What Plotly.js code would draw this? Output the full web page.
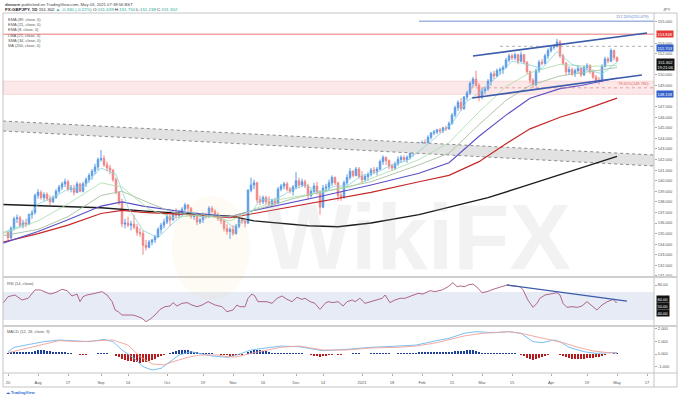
<!DOCTYPE html>
<html><head><meta charset="utf-8">
<script src="https://cdn.plot.ly/plotly-3.0.1.min.js"></script>
<style>html,body{margin:0;padding:0;background:#fff;}#chart{width:680px;height:395px;}</style>
</head><body><div id="chart"></div>
<script>
// ---- Daily GBP/JPY candles (bar index 0 = 2020-07-20 ... 203 = 2021-05-03) ----
const open = [135.1,134.6,135.5,136.4,136.5,135.8,136.0,135.9,136.8,137.0,
138.6,138.9,138.4,138.7,138.3,138.0,138.4,139.0,139.4,139.7,
139.9,139.2,139.3,138.9,139.7,139.0,139.7,140.1,140.5,140.9,
141.3,142.0,142.1,141.5,141.2,141.0,140.1,138.9,137.9,135.9,
136.0,135.8,135.9,135.6,135.1,135.0,133.9,133.7,134.2,134.4,
134.7,135.4,135.8,136.1,136.6,136.3,137.0,136.7,137.0,137.3,
137.7,137.4,136.6,136.8,136.1,136.3,136.8,136.6,137.4,137.1,
136.8,136.4,136.2,135.5,135.2,135.4,135.0,135.7,136.3,136.2,
136.0,139.1,139.6,139.8,138.2,138.0,138.4,138.0,137.8,138.1,
137.9,139.2,139.5,139.7,139.2,139.0,139.4,140.0,139.6,139.9,
139.5,138.6,139.0,139.5,138.9,137.5,139.3,139.4,139.8,140.3,
139.8,138.6,138.4,139.8,140.3,140.9,140.5,141.1,140.4,140.1,
140.4,140.6,141.0,140.9,141.1,141.8,142.2,141.9,141.4,141.2,
141.6,142.0,142.2,142.0,142.2,142.6,142.9,142.7,143.5,143.6,
143.5,144.1,144.5,144.6,144.8,144.7,145.0,144.9,145.4,146.2,
146.9,147.4,146.8,147.9,148.3,149.2,149.6,149.0,147.9,148.5,
148.7,149.4,150.1,149.9,150.4,150.5,150.7,151.4,151.8,151.6,
151.9,151.3,151.9,151.2,150.3,149.5,149.1,150.4,151.2,151.1,
151.8,152.3,152.6,152.7,153.1,151.8,151.1,150.3,150.5,150.1,
150.4,150.6,150.0,150.7,150.9,150.3,149.8,149.5,149.4,150.8,
151.5,151.3,152.3,151.639];
const high = [135.3,135.7,136.6,136.8,136.7,136.3,136.4,136.9,137.2,138.8,
139.2,139.1,138.9,138.9,138.6,138.6,139.2,139.6,139.9,140.2,
140.1,139.6,139.6,139.9,139.8,139.9,140.3,140.7,141.1,141.6,
142.2,142.9,142.4,141.8,141.5,141.1,140.3,139.0,138.3,136.4,
136.6,136.2,136.8,135.9,135.5,135.3,134.4,134.4,134.5,134.9,
135.6,136.0,136.4,136.9,136.8,137.2,137.4,137.2,137.5,137.9,
137.8,137.5,137.0,137.0,136.5,137.0,137.0,137.6,137.6,137.3,
137.0,136.6,136.3,135.9,135.6,135.8,135.9,136.6,136.6,136.5,
139.2,140.3,140.1,139.9,138.6,138.6,138.6,138.5,138.3,138.4,
139.4,139.7,139.9,139.9,139.4,139.6,140.8,140.3,140.2,140.1,
139.7,139.2,139.8,139.9,139.1,139.6,139.7,140.1,140.5,140.4,
139.9,139.0,140.0,140.6,141.2,141.0,141.3,141.3,140.9,140.6,
140.8,141.2,141.3,141.3,142.0,142.4,142.3,142.0,141.6,141.8,
142.3,142.4,142.4,142.4,142.8,143.1,143.2,143.6,143.8,143.9,
144.3,144.6,144.8,144.9,145.0,145.1,145.2,145.6,146.4,147.1,
147.6,147.8,148.0,148.5,149.4,149.8,150.4,149.2,148.8,148.9,
149.6,150.3,150.4,150.6,150.7,150.9,151.6,152.0,152.0,152.1,
152.0,152.2,152.0,151.3,150.4,149.7,150.6,151.4,151.5,152.0,
152.5,152.8,152.9,153.4,153.3,152.0,151.2,150.8,150.7,150.6,
150.9,150.7,150.9,151.1,151.0,150.5,150.0,149.8,151.0,151.7,
151.7,152.5,152.4,151.750];
const low = [134.4,134.5,135.3,136.0,135.6,135.5,135.6,135.8,136.4,136.8,
138.3,138.2,138.1,138.1,137.7,137.9,138.3,138.8,139.1,139.4,
139.0,138.9,138.6,138.8,138.9,138.9,139.4,139.8,140.1,140.6,
141.0,141.8,141.3,140.9,140.6,139.9,138.7,137.7,135.6,135.5,
135.6,135.3,135.4,134.8,134.7,133.0,133.4,133.6,133.9,134.1,
134.6,135.0,135.5,135.9,135.7,136.2,136.4,136.5,136.7,137.1,
137.1,136.4,136.3,135.8,135.9,136.0,136.4,136.5,136.9,136.6,
136.2,135.9,135.2,134.9,134.5,134.8,134.9,135.5,135.9,135.6,
135.9,138.9,139.2,137.9,137.7,137.8,137.8,137.6,137.5,137.7,
137.8,139.0,139.2,139.0,138.8,138.6,139.2,139.3,139.4,139.3,
138.2,138.4,138.8,138.7,136.8,137.4,138.9,139.1,139.5,139.6,
138.1,138.1,138.3,139.6,140.1,140.3,140.4,140.2,139.8,139.9,
140.0,140.4,140.6,140.5,141.0,141.5,141.5,141.1,140.9,141.0,
141.4,141.7,141.8,141.7,142.0,142.3,142.5,142.6,143.2,143.3,
143.4,143.9,144.3,144.4,144.5,144.5,144.7,144.8,145.3,146.0,
146.6,146.6,146.7,147.6,148.1,148.8,148.9,147.5,147.7,148.2,
148.5,149.0,149.6,149.8,150.0,150.1,150.6,151.2,151.4,151.4,
151.0,151.2,151.0,150.1,149.2,148.8,148.9,150.2,150.9,151.0,
151.5,152.1,152.4,152.6,151.6,150.9,150.0,150.0,149.9,149.8,
150.2,149.8,149.9,150.4,150.1,149.6,149.3,149.1,149.3,150.7,
151.1,151.2,151.4,151.238];
const close = [134.6,135.5,136.4,136.5,135.8,136.0,135.9,136.8,137.0,138.6,
138.9,138.4,138.7,138.3,138.0,138.4,139.0,139.4,139.7,139.9,
139.2,139.3,138.9,139.7,139.0,139.7,140.1,140.5,140.9,141.3,
142.0,142.1,141.5,141.2,141.0,140.1,138.9,137.9,135.9,136.0,
135.8,135.9,135.6,135.1,135.0,133.9,133.7,134.2,134.4,134.7,
135.4,135.8,136.1,136.6,136.3,137.0,136.7,137.0,137.3,137.7,
137.4,136.6,136.8,136.1,136.3,136.8,136.6,137.4,137.1,136.8,
136.4,136.2,135.5,135.2,135.4,135.0,135.7,136.3,136.2,136.0,
139.1,139.6,139.8,138.2,138.0,138.4,138.0,137.8,138.1,137.9,
139.2,139.5,139.7,139.2,139.0,139.4,140.0,139.6,139.9,139.5,
138.6,139.0,139.5,138.9,137.5,139.3,139.4,139.8,140.3,139.8,
138.6,138.4,139.8,140.3,140.9,140.5,141.1,140.4,140.1,140.4,
140.6,141.0,140.9,141.1,141.8,142.2,141.9,141.4,141.2,141.6,
142.0,142.2,142.0,142.2,142.6,142.9,142.7,143.5,143.6,143.5,
144.1,144.5,144.6,144.8,144.7,145.0,144.9,145.4,146.2,146.9,
147.4,146.8,147.9,148.3,149.2,149.6,149.0,147.9,148.5,148.7,
149.4,150.1,149.9,150.4,150.5,150.7,151.4,151.8,151.6,151.9,
151.3,151.9,151.2,150.3,149.5,149.1,150.4,151.2,151.1,151.8,
152.3,152.6,152.7,153.1,151.8,151.1,150.3,150.5,150.1,150.4,
150.6,150.0,150.7,150.9,150.3,149.8,149.5,149.4,150.8,151.5,
151.3,152.3,151.632,151.302];

// ---- Moving averages (bar index, price) ----
const ma200X = [-1.7,10,31,47,60,74,82,100,110,121,137,147,160,170,184,195,203];
const ma200V = [137.75,137.65,137.45,137.1,136.9,136.65,136.2,135.75,135.65,136.0,136.8,137.5,138.4,139.3,140.6,141.6,142.3];
const ema89X = [-1.7,10,20,31,38,45,60,74,82,104,121,137,147,157,166,174,184,191,203];
const ema89V = [134.2,135.0,135.8,136.9,137.2,137.0,136.8,136.5,136.9,138.0,138.9,139.9,140.5,141.8,143.5,144.9,146.0,146.6,147.8];
const lma21X = [-1.7,10,20,31,38,45,60,74,82,104,121,137,147,157,166,174,184,191,203];
const lma21V = [134.1,135.2,136.3,137.6,138.0,137.6,137.0,136.6,137.2,138.5,139.6,140.7,141.7,144.2,146.2,147.8,148.7,149.0,149.7];
const sma34X = [-1.7,10,20,31,38,47,55,65,74,82,95,104,121,137,147,157,166,174,184,194,203];
const sma34V = [134.8,135.4,136.6,138.6,139.0,137.9,137.0,136.6,136.6,137.2,138.3,138.9,139.9,141.5,142.6,145.3,147.6,149.0,149.9,150.3,150.7];
const ema21X = [-1.7,10,20,31,38,47,55,65,74,82,90,104,114,121,137,147,157,166,174,184,194,203];
const ema21V = [135.0,136.2,137.8,139.8,139.4,137.3,136.5,136.8,136.2,137.3,138.2,138.9,139.4,140.2,142.0,143.6,146.5,148.9,150.2,151.0,150.8,150.9];
const ema8X = [-1.7,5,10,15,20,25,31,36,40,45,50,55,60,65,70,75,80,84,89,94,99,104,109,113,118,123,128,133,138,143,148,153,158,163,168,173,178,183,188,193,198,203];
const ema8V = [135.1,135.8,137.8,138.4,139.2,139.4,141.2,140.6,137.5,135.3,134.6,136.0,137.1,136.6,136.8,135.6,136.5,138.2,138.2,139.0,139.6,138.9,139.5,139.5,140.5,140.8,141.5,141.9,143.0,144.2,145.4,147.5,148.5,149.8,151.3,151.0,150.6,152.2,151.0,150.5,150.1,151.2];

// ---- RSI (14) ----
const rsiX = [-1.7,0,2.3,4.7,6.7,9,10.7,12.3,14,15.7,18,19.7,21.3,23,24,25,26.3,28,29.7,31.3,33,34.7,35.7,36.7,38,39.7,41.7,43.3,44.7,46,47.3,49,50.7,52.3,54,55,56.3,58,59.7,61.3,63,64.7,66.7,69,71.3,73,75,76.3,77.3,79,80,81.3,82.3,83.3,86.3,88,89.7,91.3,93,94.7,96.3,98,99,100.7,102.3,104,105.7,106.7,108.3,110,111.7,113,114.7,115.7,117.3,119,120.7,123,124.7,125.7,127.3,129,130.7,132.3,134.7,136.7,138.3,140.7,142.3,144.7,146.7,148.3,149.7,150.7,152.3,153.3,155,156.7,158,159.7,161.7,164,166.3,168.3,170.7,171.7,173.3,175,176.3,177.3,179,180.7,183,184,185,186.3,188,189.7,191.3,193,194.7,196.3,198,199.7,200.7,201.7,202.7,203];
const rsiV = [53.8,63.3,65.7,58.6,61,72.9,72.9,70.5,67.1,69,73.8,71.9,64.3,67.1,56.2,63.3,65.7,67.1,69,70.5,65.7,56.2,44.3,41.9,37.1,37.1,37.1,34.8,32.4,27.6,31,37.1,45.2,49,50,54.8,50,53.8,54.8,51.4,49,51.4,56.2,51.4,49,41.9,44.3,51.4,49,49,61,67.1,64.3,56.2,56.2,53.8,61,64.3,59.5,56.2,62.4,59.5,61,56.2,53.8,45.2,53.8,56.2,54.8,56.2,50,56.2,58.6,56.2,61,53.8,56.2,59.5,61,65.7,54.8,58.6,61,61,64.3,68.1,67.1,71.9,70.5,72.9,77.6,83.3,77.6,78.6,77.6,80,81.4,75.3,69,70.5,73.8,76.7,80,78.6,77.6,72.9,58.6,48.1,53.8,61,65.7,67.1,69,65.7,53.8,48.1,49,48.1,50,56.2,50,44.3,51.4,56.2,57.6,59.5,54.8,56.2];

// ---- MACD (12, 26, 9) ----
const macdX = [0,2,6,12,17,23,27,32,35,38,42,45,48,51,54,57,61,64,68,73,76,81,91,97,105,113,121,130,136,143,147,152,156,162,167,171,175,178,182,184,187,192,196,201,203];
const macdV = [0.18,0.53,0.71,0.98,1.11,1.03,0.98,1.16,0.98,0.32,-0.34,-1.0,-1.27,-1.14,-0.61,-0.08,0.18,0.05,-0.16,-0.26,-0.10,0.32,0.63,0.58,0.26,0.37,0.53,0.63,0.71,1.06,1.24,1.64,1.77,1.69,1.77,1.64,0.98,0.90,1.11,0.98,0.53,0.18,0.05,0.11,0.11];
const signalX = [0,4,11,17,24,31,35,40,44,48,52,55,60,64,70,73,76,81,91,97,105,113,121,130,136,143,147,152,158,167,171,176,181,185,190,195,200,203];
const signalV = [0.10,0.32,0.71,1.06,0.98,1.06,1.11,0.71,-0.21,-0.79,-0.87,-0.61,-0.26,-0.08,-0.08,-0.21,-0.25,0.05,0.53,0.63,0.32,0.32,0.48,0.53,0.63,0.90,1.11,1.43,1.64,1.77,1.64,1.37,1.11,0.90,0.53,0.24,0.11,0.05];
const histV = [0.10,0.12,0.15,0.17,0.16,0.15,0.14,0.16,0.19,0.26,
0.30,0.30,0.28,0.25,0.21,0.18,0.17,0.16,0.15,0.14,
0.10,0.07,0.03,-0.01,-0.04,-0.05,-0.04,-0.02,0.00,0.03,
0.07,0.10,0.09,0.06,0.03,-0.03,-0.12,-0.22,-0.38,-0.47,
-0.53,-0.58,-0.62,-0.66,-0.68,-0.66,-0.62,-0.55,-0.46,-0.37,
-0.27,-0.17,-0.08,0.02,0.10,0.17,0.23,0.28,0.31,0.32,
0.28,0.22,0.17,0.12,0.09,0.07,0.05,0.05,0.04,0.02,
-0.01,-0.04,-0.08,-0.11,-0.12,-0.12,-0.10,-0.07,-0.05,-0.03,
0.12,0.25,0.33,0.34,0.31,0.26,0.20,0.15,0.10,0.07,
0.08,0.09,0.10,0.09,0.07,0.06,0.07,0.06,0.05,0.03,
-0.03,-0.08,-0.12,-0.15,-0.20,-0.17,-0.12,-0.08,-0.04,-0.02,
-0.05,-0.06,-0.03,0.00,0.03,0.04,0.05,0.04,0.02,0.02,
0.03,0.04,0.05,0.07,0.08,0.09,0.07,0.05,0.03,0.03,
0.04,0.05,0.05,0.06,0.07,0.08,0.10,0.12,0.13,0.13,
0.14,0.15,0.15,0.14,0.13,0.12,0.12,0.14,0.18,0.22,
0.26,0.25,0.27,0.29,0.31,0.29,0.24,0.14,0.08,0.05,
0.05,0.07,0.06,0.05,0.05,0.06,0.08,0.09,0.07,0.04,
-0.01,-0.08,-0.15,-0.28,-0.40,-0.48,-0.42,-0.33,-0.25,-0.16,
-0.08,-0.03,0.00,0.02,-0.05,-0.15,-0.26,-0.33,-0.37,-0.40,
-0.41,-0.40,-0.37,-0.33,-0.30,-0.28,-0.27,-0.23,-0.16,-0.09,
-0.03,0.02,0.05,0.06];

// ---- Axis ticks ----
const dateTickIdx = [0,10,20,31,40,53,65,75,85,96,105,118,128,138,148,158,168,181,193,203,213];
const dateTickText = ['20','Aug','17','Sep','14','Oct','19','Nov','16','Dec','14','2021','18','Feb','15','Mar','15','Apr','19','May','17'];
const priceTicks = [131,132,133,134,135,136,137,138,139,140,141,142,143,144,145,146,147,149,150,152,153,155];
const priceTickText = priceTicks.map(v => v.toFixed(3));

// ---- Drawn levels / zones ----
const resistance = 153.848, fib117 = 155.079, level2 = 152.703, fib786 = 148.78, support = 148.158, zoneTop = 149.42;
const bandX = [-1.67, 215.33], bandTop = [145.64, 142.43], bandBot = [144.70, 141.39];

const F = 'Liberation Sans, Arial, sans-serif';
const idx = close.map((_, i) => i);

const line = (x, y, color, w, yaxis) => ({type:'scatter', mode:'lines', x, y, yaxis: yaxis || 'y', line:{color, width:w}, hoverinfo:'skip'});

const traces = [
  {type:'scatter', mode:'lines', x:bandX, y:bandBot, line:{color:'#8a8a8a', width:1, dash:'dot'}, hoverinfo:'skip'},
  {type:'scatter', mode:'lines', x:bandX, y:bandTop, fill:'tonexty', fillcolor:'#e2e2e2', line:{color:'#8a8a8a', width:1, dash:'dot'}, hoverinfo:'skip'},
  line(ma200X, ma200V, '#1c1c1c', 1.4),
  line(ema89X, ema89V, '#c62828', 1.2),
  line(lma21X, lma21V, '#5a4fc8', 1.1),
  line(sma34X, sma34V, '#a5bfa0', 0.9),
  line(ema21X, ema21V, '#a8dca8', 0.8),
  line(ema8X, ema8V, '#86d4d8', 0.8),
  {type:'candlestick', x:idx, open, high, low, close, whiskerwidth:0,
   increasing:{line:{color:'#5b9be6', width:1}, fillcolor:'#5b9be6'},
   decreasing:{line:{color:'#ef8585', width:1}, fillcolor:'#ef8585'}, hoverinfo:'skip'},
  line(rsiX, rsiV, '#a8567a', 0.9, 'y2'),
  {type:'bar', x:idx, y:histV, yaxis:'y3', width:0.8, marker:{color:histV.map(v => v >= 0 ? '#1e3f98' : '#b71c1c'), line:{width:0}}, hoverinfo:'skip'},
  line(macdX, macdV, '#6cb8f0', 0.9, 'y3'),
  line(signalX, signalV, '#f2a19a', 0.9, 'y3')
];

const pY = Y => (373 - Y) / 360;   // pixel row -> paper
const pX = X => (X - 3) / 651;

const shapes = [
  {type:'rect', xref:'paper', yref:'y2', x0:0, x1:1, y0:30, y1:70, fillcolor:'#e6ebf6', line:{width:0}, layer:'below'},
  {type:'rect', xref:'paper', yref:'y', x0:0, x1:1, y0:support, y1:zoneTop, fillcolor:'rgba(239,130,130,0.18)', line:{color:'rgba(239,130,130,0.35)', width:0.6}, layer:'below'},
  {type:'line', xref:'paper', yref:'y', x0:0, x1:1, y0:resistance, y1:resistance, line:{color:'#f3a3a3', width:1.5}},
  {type:'line', xref:'x', yref:'y', x0:137, x1:215.33, y0:fib117, y1:fib117, line:{color:'#6f8fd0', width:1}},
  {type:'line', xref:'x', yref:'y', x0:164, x1:215.33, y0:level2, y1:level2, line:{color:'#9a9a9a', width:0.8, dash:'dot'}},
  {type:'line', xref:'x', yref:'y', x0:154, x1:215.33, y0:fib786, y1:fib786, line:{color:'#e08a8a', width:0.8, dash:'dot'}},
  {type:'line', xref:'x', yref:'y', x0:155, x1:213, y0:151.79, y1:153.96, line:{color:'#3b5bab', width:1.6}},
  {type:'line', xref:'x', yref:'y', x0:154.7, x1:211.3, y0:147.82, y1:149.99, line:{color:'#3b5bab', width:1.6}},
  {type:'line', xref:'x', yref:'y2', x0:166.3, x1:206.3, y0:80, y1:57, line:{color:'#3b5bab', width:1.4}},
  // frame & separators
  {type:'rect', xref:'paper', yref:'paper', x0:0, x1:pX(677), y0:pY(387), y1:1, line:{color:'#c4c4c4', width:1}},
  {type:'line', xref:'paper', yref:'paper', x0:1, x1:1, y0:pY(387), y1:1, line:{color:'#c4c4c4', width:1}},
  {type:'line', xref:'paper', yref:'paper', x0:0, x1:pX(677), y0:pY(277), y1:pY(277), line:{color:'#cfcfcf', width:2}},
  {type:'line', xref:'paper', yref:'paper', x0:0, x1:pX(677), y0:pY(326), y1:pY(326), line:{color:'#cfcfcf', width:2}},
  {type:'line', xref:'paper', yref:'paper', x0:0, x1:pX(677), y0:0, y1:0, line:{color:'#c4c4c4', width:1}},
  // watermark emblem
  {type:'circle', xref:'paper', yref:'paper', x0:pX(172), x1:pX(250), y0:pY(300), y1:pY(196), fillcolor:'rgba(238,196,110,0.07)', line:{width:0}}
];

const tag = (y, text, bg, yref, extra) => Object.assign({xref:'paper', yref: yref || 'y', x:1, y, xanchor:'left', yanchor:'middle', xshift:2, text, showarrow:false, bgcolor:bg, borderpad:0.5, font:{family:F, size:4, color:'#fff'}}, extra || {});
const legendRows = ['EMA (89, close, 0)','EMA (21, close, 0)','EMA (8, close, 0)','LMA (21, close, 0)','SMA (34, close, 0)','MA (200, close, 0)'];
const legendY = [19, 24.3, 29.7, 35, 40.3, 45.7];

const annotations = [
  {xref:'paper', yref:'paper', x:pX(3), y:pY(4), xanchor:'left', yanchor:'middle', showarrow:false, font:{family:F, size:4.2, color:'#444'},
   text:'<b>dmoore</b> published on TradingView.com, May 03, 2021 07:38:56 BST'},
  {xref:'paper', yref:'paper', x:pX(3), y:pY(9.6), xanchor:'left', yanchor:'middle', showarrow:false, font:{family:F, size:4.4, color:'#222'},
   text:'<b>FX:GBPJPY, 1D</b> 151.302 <span style="color:#26a69a">▲ -0.330 (-0.22%)</span> O:<span style="color:#26a69a">151.639</span> H:<span style="color:#26a69a">151.750</span> L:<span style="color:#26a69a">151.238</span> C:<span style="color:#26a69a">151.302</span>'},
  ...legendRows.map((t, k) => ({xref:'paper', yref:'paper', x:pX(6), y:pY(legendY[k]), xanchor:'left', yanchor:'middle', showarrow:false, font:{family:F, size:4, color:'#555'}, text:t})),
  {xref:'paper', yref:'paper', x:pX(5), y:pY(283), xanchor:'left', yanchor:'middle', showarrow:false, font:{family:F, size:4, color:'#555'}, text:'RSI (14, close)'},
  {xref:'paper', yref:'paper', x:pX(5), y:pY(331), xanchor:'left', yanchor:'middle', showarrow:false, font:{family:F, size:4, color:'#555'}, text:'MACD (12, 26, close, 9)'},
  {xref:'paper', yref:'paper', x:pX(4), y:pY(392), xanchor:'left', yanchor:'middle', showarrow:false, font:{family:F, size:4, color:'#2a6bd8'}, text:'<b>☁ TradingView</b>'},
  {xref:'paper', yref:'paper', x:pX(661), y:pY(9), xanchor:'left', yanchor:'middle', showarrow:false, font:{family:F, size:4, color:'#555'}, text:'JPY'},
  {xref:'paper', yref:'y', x:1, y:fib117, xanchor:'right', yanchor:'bottom', xshift:-3, showarrow:false, font:{family:F, size:4, color:'#5b7fc7'}, text:'117.20%(155.079)'},
  {xref:'paper', yref:'y', x:1, y:fib786, xanchor:'right', yanchor:'bottom', xshift:-3, showarrow:false, font:{family:F, size:4, color:'#e06a6a'}, text:'78.60%(148.780)'},
  tag(resistance, '153.848', '#e53935'),
  tag(level2, '152.703', '#3461c9', 'y', {yshift:-1.5}),
  tag(151.302, '151.302<br>19:21:06', '#131313', 'y', {yanchor:'top', yshift:3}),
  tag(support, '148.158', '#3461c9'),
  tag(60, '60.00', '#131313', 'y2'),
  tag(50, '50.00', '#131313', 'y2'),
  tag(40, '40.00', '#131313', 'y2'),
  {xref:'paper', yref:'paper', x:pX(418), y:pY(237), xanchor:'center', yanchor:'middle', showarrow:false,
   font:{family:F, size:92, color:'rgba(175,175,175,0.16)'}, text:'<b>WikiFX</b>'}
];

const axisCommon = {showgrid:false, zeroline:false, showline:false, ticks:'outside', ticklen:2, tickcolor:'#aaa', tickfont:{family:F, size:4, color:'#555'}, fixedrange:true};

const layout = {
  width:680, height:395,
  margin:{l:3, r:26, t:13, b:22},
  paper_bgcolor:'#fff', plot_bgcolor:'#fff',
  showlegend:false, hovermode:false, bargap:0,
  font:{family:F, size:4, color:'#555'},
  xaxis:Object.assign({}, axisCommon, {range:[-1.67, 215.33], anchor:'y3', tickvals:dateTickIdx, ticktext:dateTickText, ticklabelstandoff:3, rangeslider:{visible:false}}),
  yaxis:Object.assign({}, axisCommon, {domain:[pY(277), 1], range:[130.9, 155.85], side:'right', anchor:'x', tickvals:priceTicks, ticktext:priceTickText}),
  yaxis2:Object.assign({}, axisCommon, {domain:[pY(326), pY(277)], range:[21.43, 91.43], side:'right', anchor:'x', tickvals:[80], ticktext:['80.00']}),
  yaxis3:Object.assign({}, axisCommon, {domain:[0, pY(326)], range:[-1.508, 2.222], side:'right', anchor:'x', tickvals:[2,1,0,-1], ticktext:['2.000','1.000','0.000','-1.000']}),
  shapes, annotations
};

Plotly.newPlot('chart', traces, layout, {displayModeBar:false, staticPlot:true});
</script></body></html>
